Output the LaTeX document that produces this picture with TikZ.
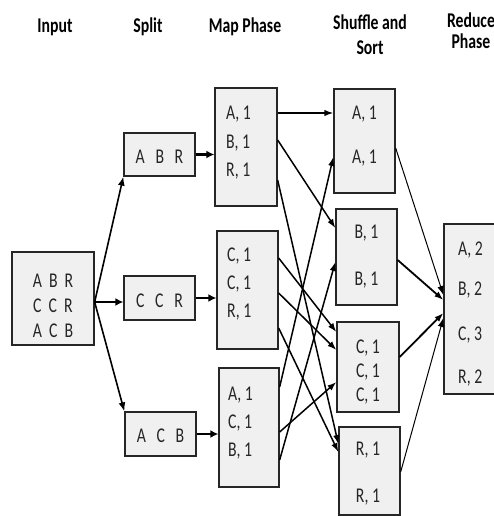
\documentclass[tikz,border=0pt]{standalone}
\usepackage{fontspec}
\setmainfont{Carlito}[FakeStretch=0.75]
\usetikzlibrary{arrows.meta}
\tikzset{
  every picture/.style={>=Latex, x=1pt, y=-1pt},
  box/.style={draw=black!85, fill=gray!12, line width=1.3pt, inner sep=0pt},
  panel/.style 2 args={box, minimum width=#1pt, minimum height=#2pt},
  txt/.style={inner sep=0pt, text=black!85, font=\fontsize{21}{23}\selectfont},
  head/.style={inner sep=0pt, anchor=base, text=black, font=\fontsize{21}{24}\selectfont\bfseries},
  flow/.style={->, line width=1.6pt, >={Latex[length=9pt,width=7pt]}},
  feed/.style={->, line width=2.4pt, >={Latex[length=8pt,width=8pt]}},
  link/.style={->, line width=1.5pt, >={Latex[length=9pt,width=6.5pt]}},
}
\newcommand{\boxrows}[4]{% box name, anchor, x, baseline/text pairs
  \foreach \yb/\t [count=\i] in {#4}
    \node[txt, anchor=#2] (#1-\i) at (#3,\yb) {\t};
}

\begin{document}
\begin{tikzpicture}
  \useasboundingbox (0,0) rectangle (494,516);
  \clip (0,0) rectangle (494,516);
  % column heads
  \node[head] (h-in) at (55,33) {Input};
  \node[head] (h-sp) at (148,33) {Split};
  \node[head] (h-mp) at (245,33) {Map Phase};
  \node[head] (h-sh) at (370,30) {Shuffle and};
  \node[head] (h-so) at (370,55) {Sort};
  \node[head] (h-rd) at (471,28) {Reduce};
  \node[head] (h-ph) at (471,49) {Phase};
  % boxes
  \node[panel={82}{93}] (in) at (53,298.5) {};
  \node[panel={71}{43}] (sp1) at (159.5,154.5) {};
  \node[panel={71}{44}] (sp2) at (159.5,298) {};
  \node[panel={71}{44}] (sp3) at (160.5,434) {};
  \node[panel={62}{118}] (mp1) at (246,147) {};
  \node[panel={61}{118}] (mp2) at (247.5,290) {};
  \node[panel={60}{119}] (mp3) at (249,427.5) {};
  \node[panel={61}{104}] (sh1) at (364.5,141) {};
  \node[panel={61}{96}] (sh2) at (366.5,257) {};
  \node[panel={62}{90}] (sh3) at (368,367) {};
  \node[panel={61}{88}] (sh4) at (369.5,471) {};
  \node[panel={60}{170}] (rd) at (474,309) {};
  % texts
  \boxrows{in}{base}{53}{287/{A~ B~ R},312/{C~ C~ R},337/{A~ C~ B}}
  \boxrows{sp1}{base}{159.5}{163/{A~~ B~~ R}}
  \boxrows{sp2}{base}{159.5}{307/{C~~ C~~ R}}
  \boxrows{sp3}{base}{160.5}{442/{A~~ C~~ B}}
  \boxrows{mp1}{base west}{226}{120/{A, 1},148/{B, 1},176/{R, 1}}
  \boxrows{mp2}{base west}{227}{261/{C, 1},289/{C, 1},317/{R, 1}}
  \boxrows{mp3}{base west}{228}{400/{A, 1},428/{C, 1},456/{B, 1}}
  \boxrows{sh1}{base}{364.5}{120/{A, 1},163/{A, 1}}
  \boxrows{sh2}{base}{366.5}{238/{B, 1},285/{B, 1}}
  \boxrows{sh3}{base}{368}{353/{C, 1},377/{C, 1},401/{C, 1}}
  \boxrows{sh4}{base}{368}{455/{R, 1},502/{R, 1}}
  \boxrows{rd}{base west}{458}{255/{A, 2},295/{B, 2},340/{C, 3},383/{R, 2}}
  % input -> split -> map
  \coordinate (fan) at ([yshift=-3.5pt]in.east);
  \draw[flow] (fan) -- (sp1.south west);
  \draw[feed] (fan) -- (fan -| sp2.west);
  \draw[flow] (fan) -- (sp3.north west);
  \foreach \k in {1,2,3}
    \draw[feed] (sp\k.east) -- (sp\k.east -| mp\k.west);
  % map -> shuffle
  \foreach \a/\sa/\b/\sb in {mp1/34/sh1/28, mp1/7/sh2/29, mp1/-33/sh4/27,
      mp2/32/sh3/35, mp2/-3/sh3/17, mp2/-38/sh4/19,
      mp3/40.5/sh1/-16, mp3/-4.5/sh3/-15, mp3/-32.5/sh2/-5}
    \draw[link] ([yshift=\sa pt]\a.east) -- ([yshift=\sb pt]\b.west);
  % shuffle -> reduce
  \foreach \a/\sa/\sb/\w in {sh1/-7/14/1.0, sh2/-3/9/1.8, sh3/10/-4/1.8, sh4/-1/-9/1.0}
    \draw[link, line width=\w pt] ([yshift=\sa pt]\a.east) -- ([yshift=\sb pt]rd.west);
\end{tikzpicture}
\end{document}
